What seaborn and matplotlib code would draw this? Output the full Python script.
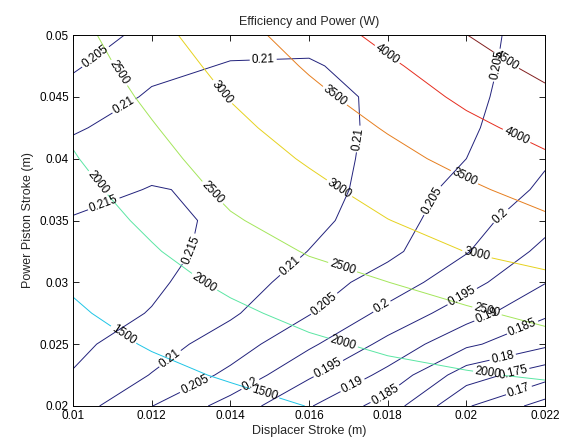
import numpy as np
import matplotlib
matplotlib.use("Agg")
import matplotlib.pyplot as plt
import seaborn as sns

# ---- data (grid nodes) ----
displacer_stroke = [0.010, 0.012, 0.014, 0.016, 0.018, 0.020, 0.022]
piston_stroke = [0.020, 0.0225, 0.025, 0.0275, 0.030, 0.0325, 0.035,
                 0.0375, 0.040, 0.0425, 0.045, 0.0475, 0.050]

# power (W): one list per displacer stroke, values bottom -> top
power_cols = [
    [1130, 1235, 1340, 1445, 1550, 1655, 1761, 1866, 1971, 2067, 2159, 2252, 2344],
    [1250, 1392, 1534, 1676, 1818, 1960, 2090, 2215, 2340, 2465, 2593, 2722, 2851],
    [1361, 1544, 1726, 1909, 2091, 2273, 2454, 2604, 2744, 2883, 3022, 3158, 3293],
    [1508, 1715, 1922, 2127, 2332, 2531, 2706, 2880, 3052, 3217, 3381, 3551, 3735],
    [1662, 1870, 2078, 2287, 2496, 2743, 2990, 3174, 3355, 3538, 3731, 3923, 4139],
    [1731, 1963, 2196, 2429, 2710, 3008, 3214, 3420, 3644, 3878, 4097, 4298, 4495],
    [1756, 2047, 2337, 2620, 2891, 3160, 3426, 3680, 3930, 4167, 4398, 4627, 4855],
]

# efficiency: one list per displacer stroke, values bottom -> top
efficiency_cols = [
    [0.2125, 0.2147, 0.2162, 0.2170, 0.2172, 0.2165, 0.2153, 0.2135, 0.2116, 0.2095, 0.2069, 0.2044, 0.2018],
    [0.2051, 0.2098, 0.2122, 0.2148, 0.2157, 0.2160, 0.2157, 0.2152, 0.2137, 0.2121, 0.2106, 0.2088, 0.2067],
    [0.1980, 0.2038, 0.2076, 0.2107, 0.2127, 0.2140, 0.2145, 0.2144, 0.2140, 0.2132, 0.2120, 0.2103, 0.2085],
    [0.1904, 0.1957, 0.2009, 0.2053, 0.2076, 0.2099, 0.2114, 0.2123, 0.2126, 0.2124, 0.2117, 0.2105, 0.2085],
    [0.1826, 0.1886, 0.1936, 0.1986, 0.2027, 0.2062, 0.2072, 0.2078, 0.2082, 0.2087, 0.2090, 0.2080, 0.2065],
    [0.1705, 0.1773, 0.1860, 0.1922, 0.1968, 0.2003, 0.2020, 0.2034, 0.2050, 0.2058, 0.2062, 0.2063, 0.2060],
    [0.1630, 0.1720, 0.1810, 0.1858, 0.1902, 0.1937, 0.1966, 0.1992, 0.2005, 0.2013, 0.2022, 0.2030, 0.2038],
]

power_levels = [1500, 2000, 2500, 3000, 3500, 4000, 4500]
efficiency_levels = [0.165, 0.17, 0.175, 0.18, 0.185, 0.19, 0.195, 0.2, 0.205, 0.21, 0.215]

x_ticks = [0.010, 0.012, 0.014, 0.016, 0.018, 0.020, 0.022]
x_tick_labels = ["0.01", "0.012", "0.014", "0.016", "0.018", "0.02", "0.022"]
y_ticks = [0.020, 0.025, 0.030, 0.035, 0.040, 0.045, 0.050]
y_tick_labels = ["0.02", "0.025", "0.03", "0.035", "0.04", "0.045", "0.05"]

# where the contour labels sit in the reference (label placement only)
power_label_spots = [
    (0.0112, 0.0470), (0.0138, 0.0454), (0.01656, 0.0447), (0.01798, 0.0484),
    (0.02098, 0.0478), (0.02124, 0.0416), (0.01046, 0.0376), (0.01353, 0.0372),
    (0.01671, 0.0373), (0.01987, 0.0380), (0.01328, 0.0297), (0.01681, 0.0308),
    (0.02027, 0.0323), (0.0205, 0.0274), (0.01125, 0.0256), (0.01684, 0.0248),
    (0.02055, 0.0226), (0.01483, 0.0206),
]
efficiency_label_spots = [
    (0.01058, 0.0482), (0.01127, 0.0444), (0.01483, 0.0485), (0.0209, 0.0475),
    (0.01745, 0.0415), (0.01074, 0.0367), (0.01303, 0.0326), (0.01557, 0.0311),
    (0.01926, 0.0364), (0.02098, 0.0350), (0.0164, 0.0282), (0.01788, 0.0279),
    (0.01992, 0.0287), (0.02053, 0.0272), (0.02142, 0.0264), (0.02094, 0.0237),
    (0.0212, 0.0225), (0.02132, 0.0214), (0.01252, 0.0236), (0.0131, 0.0217),
    (0.01455, 0.0215), (0.01653, 0.0228), (0.0171, 0.0217), (0.01788, 0.0213),
]

# ---- styling ----
sns.set_style("ticks", {"xtick.direction": "in", "ytick.direction": "in"})
plt.rcParams["font.family"] = ["Liberation Sans", "DejaVu Sans"]

X, Y = np.meshgrid(np.array(displacer_stroke), np.array(piston_stroke))
P = np.array(power_cols).T
E = np.array(efficiency_cols).T

fig = plt.figure(figsize=(5.66, 4.46), dpi=100)
ax = fig.add_axes([0.129, 0.0897, 0.834, 0.8318])

jet = plt.get_cmap("jet")


def soften(c, w=0.25, g=0.5):
    r, gg, b, _ = c
    return ((1 - w) * r + w * g, (1 - w) * gg + w * g, (1 - w) * b + w * g)


eff_color = soften(jet(0.0), 0.3, 0.45)
pow_colors = [soften(jet(v / 4500.0), 0.22, 0.55) for v in power_levels]

cs_e = ax.contour(X, Y, E, levels=efficiency_levels, colors=[eff_color], linewidths=0.7)
cs_p = ax.contour(X, Y, P, levels=power_levels, colors=pow_colors, linewidths=0.7)

ax.clabel(cs_p, fmt="%g", fontsize=8.5, inline=True, inline_spacing=2,
          colors="k", manual=power_label_spots)
ax.clabel(cs_e, fmt="%g", fontsize=8.5, inline=True, inline_spacing=2,
          colors="k", manual=efficiency_label_spots)

ax.set_xlim(0.010, 0.022)
ax.set_ylim(0.020, 0.050)
ax.set_xticks(x_ticks)
ax.set_xticklabels(x_tick_labels)
ax.set_yticks(y_ticks)
ax.set_yticklabels(y_tick_labels)
ax.tick_params(direction="in", top=True, right=True, length=4, width=0.6,
               labelsize=8.5, pad=3, colors="k")
for s in ax.spines.values():
    s.set_linewidth(0.7)
    s.set_color("k")

ax.set_xlabel("Displacer Stroke (m)", fontsize=9, labelpad=2)
ax.set_ylabel("Power Piston Stroke (m)", fontsize=9, labelpad=4)
ax.set_title("Efficiency and Power (W)", fontsize=9, pad=7)

fig.savefig("out.png", dpi=100)
